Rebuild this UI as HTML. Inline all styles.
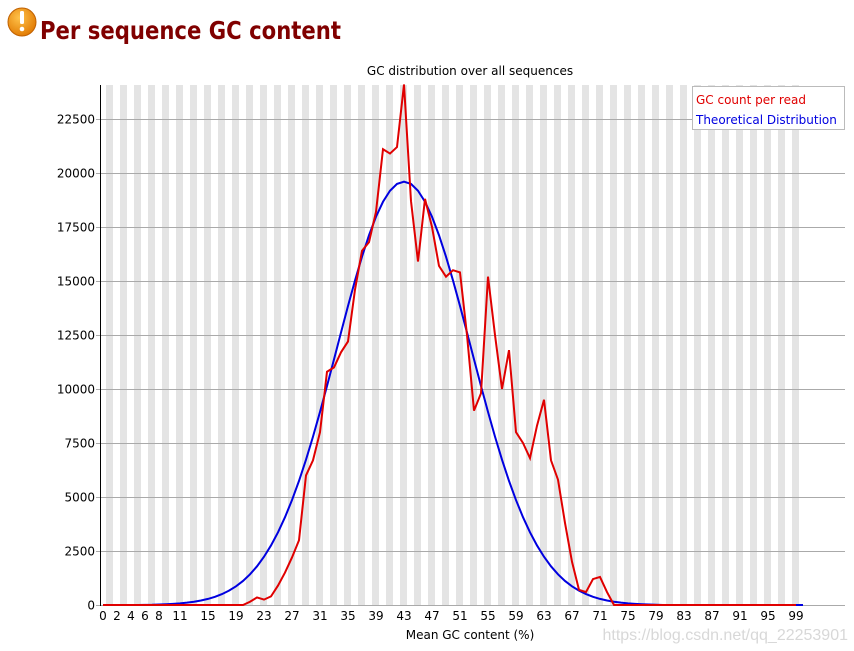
<!DOCTYPE html>
<html><head><meta charset="utf-8"><style>
body{margin:0;width:854px;height:651px;background:#fff;overflow:hidden;font-family:"Liberation Sans","DejaVu Sans",sans-serif;}
svg{display:block}
</style></head><body>
<svg id="chart" width="854" height="651" xmlns="http://www.w3.org/2000/svg">
<defs><radialGradient id="og" cx="40%" cy="35%" r="70%"><stop offset="0" stop-color="#ffc24a"/><stop offset="1" stop-color="#e07800"/></radialGradient></defs>
<g>
<circle cx="22" cy="22" r="14" fill="url(#og)" stroke="#c06000" stroke-width="1"/>
<rect x="20" y="11" width="4" height="13" rx="1.5" fill="#fff"/><circle cx="22" cy="29" r="2.3" fill="#fff"/>
</g>
<text x="40" y="39" font-size="25" font-weight="bold" fill="#800000" textLength="301" lengthAdjust="spacingAndGlyphs" font-family="'DejaVu Sans','Liberation Sans',sans-serif">Per sequence GC content</text>
<text x="470" y="75" font-size="12" text-anchor="middle" font-family="'DejaVu Sans',sans-serif">GC distribution over all sequences</text>
<g id="stripes"></g><g id="grid"></g><g id="ylabels"></g><g id="xlabels"></g>
<line x1="100.5" y1="85" x2="100.5" y2="606" stroke="#000"/>
<polyline id="blue" fill="none" stroke="#0000e0" stroke-width="2"/>
<polyline id="red" fill="none" stroke="#e00000" stroke-width="2"/>
<text x="470" y="639" font-size="12" text-anchor="middle" font-family="'DejaVu Sans',sans-serif">Mean GC content (%)</text>
<g>
<rect x="692.5" y="86.5" width="152" height="43" fill="#fff" stroke="#bbb"/>
<text x="696" y="104" font-size="12" fill="#e00000" font-family="'DejaVu Sans',sans-serif">GC count per read</text>
<text x="696" y="124" font-size="12" fill="#0000e0" font-family="'DejaVu Sans',sans-serif">Theoretical Distribution</text>
</g>
<text x="848" y="640" font-size="16" text-anchor="end" fill="#d8d8d8">https://blog.csdn.net/qq_22253901</text>
</svg>
<script>
const gcCount=[0,0,0,0,0,0,0,0,0,0,0,0,0,0,0,0,0,0,0,0,0,150,350,250,400,900,1500,2200,3000,6000,6700,8000,10800,11000,11700,12200,14600,16400,16800,18200,21100,20900,21200,24100,18700,15900,18800,17500,15700,15200,15500,15400,12500,9000,9800,15200,12500,10000,11800,8000,7500,6800,8300,9500,6700,5800,3800,2000,700,600,1200,1300,600,0,0,0,0,0,0,0,0,0,0,0,0,0,0,0,0,0,0,0,0,0,0,0,0,0,0,0];
const theoretical=[0,0,0,0,0,0,5,10,26,37,54,77,108,151,207,282,379,505,664,865,1114,1420,1791,2235,2757,3366,4065,4858,5746,6727,7796,8939,10139,11371,12618,13845,15025,16127,17119,17974,18668,19179,19494,19600,19494,19179,18668,17974,17119,16127,15025,13845,12618,11371,10139,8939,7796,6727,5746,4858,4065,3366,2757,2235,1791,1420,1114,865,664,505,379,282,207,151,108,77,54,37,26,10,0,0,0,0,0,0,0,0,0,0,0,0,0,0,0,0,0,0,0,0,0];
const yTicks=[0,2500,5000,7500,10000,12500,15000,17500,20000,22500];
const xTicks=[0,2,4,6,8,11,15,19,23,27,31,35,39,43,47,51,55,59,63,67,71,75,79,83,87,91,95,99];
const NS="http://www.w3.org/2000/svg";
const xs=v=>103+v*7, ys=v=>605-v*0.0216;
function mk(t,a,p){const e=document.createElementNS(NS,t);for(const k in a)e.setAttribute(k,a[k]);p.appendChild(e);return e;}
const st=document.getElementById('stripes');
for(let i=0;i<100;i+=2){const r=mk('rect',{x:xs(i)+3,y:85,width:7,height:520,fill:'#e4e4e4'},st);

}
const g=document.getElementById('grid'),yl=document.getElementById('ylabels');
yTicks.forEach(t=>{const y=Math.round(ys(t))+0.5;
const l=mk('line',{x1:96,x2:845,y1:y,y2:y,stroke:'#aaa'},g);


const tx=mk('text',{x:95,y:y+4,'font-size':12,'text-anchor':'end','font-family':"'DejaVu Sans',sans-serif"},yl);tx.textContent=t;

});
const xl=document.getElementById('xlabels');
xTicks.forEach(t=>{const tx=mk('text',{x:xs(t),y:620,'font-size':12,'text-anchor':'middle','font-family':"'DejaVu Sans',sans-serif"},xl);tx.textContent=t;

});
document.getElementById('red').setAttribute('points',gcCount.map((v,i)=>xs(i)+','+ys(v)).join(' '));
document.getElementById('blue').setAttribute('points',theoretical.map((v,i)=>xs(i)+','+ys(v)).join(' '));
</script>
</body></html>
